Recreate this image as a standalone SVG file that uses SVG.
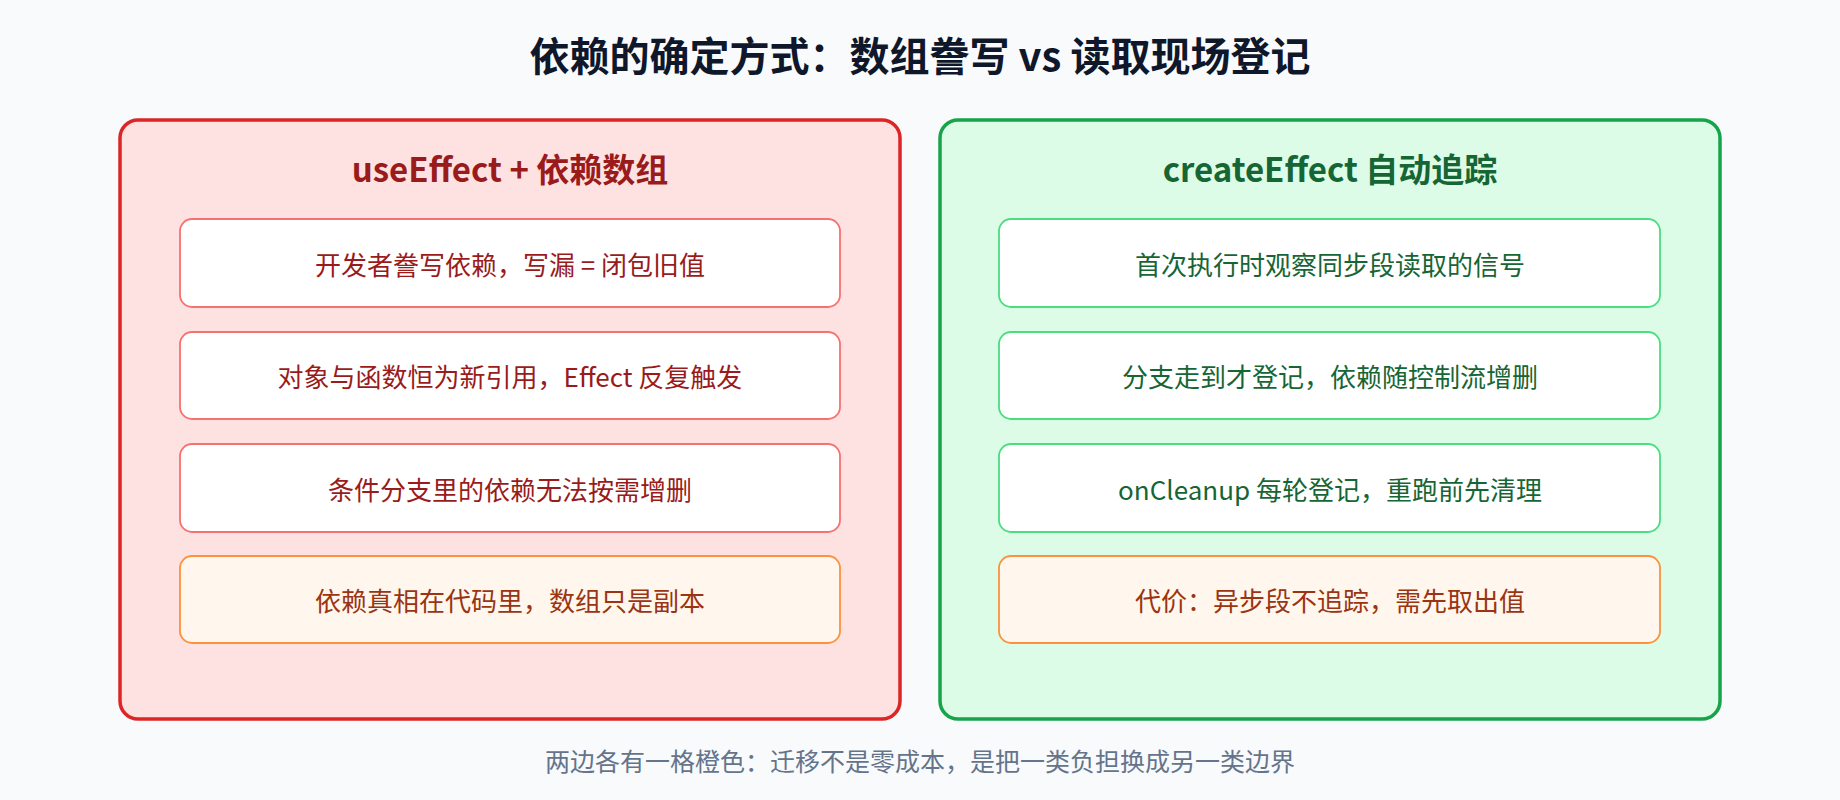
<svg xmlns="http://www.w3.org/2000/svg" width="1840" height="800" viewBox="0 0 1840 800">
<style>
text{font-family:"Noto Sans CJK SC","Noto Sans",sans-serif;text-anchor:middle;dominant-baseline:central}
.title{font-size:40px;font-weight:700;fill:#0f172a}
.pt{font-size:33px;font-weight:700}
.bt{font-size:26px}
.red .panel{fill:#fee2e2;stroke:#dc2626;stroke-width:3.5}
.red .box{fill:#fff;stroke:#f87171;stroke-width:1.8}
.red text{fill:#991b1b}
.green .panel{fill:#dcfce7;stroke:#16a34a;stroke-width:3.5}
.green .box{fill:#fff;stroke:#4ade80;stroke-width:1.8}
.green text{fill:#166534}
.box.warn{fill:#fff7ed;stroke:#fb923c}
text.warn{fill:#9a3412}
.foot{font-size:25px;fill:#64748b}
</style>
<rect width="1840" height="800" fill="#f8fafc"/>
<text class="title" x="920" y="54">依赖的确定方式：数组誊写 vs 读取现场登记</text>
<g id="left" class="red">
<rect class="panel" x="120" y="120" width="780" height="599" rx="18"/>
<text class="pt" x="510" y="168">useEffect + 依赖数组</text>
<g id="l1"><rect class="box" x="180" y="219" width="660" height="88" rx="12"/><text class="bt" x="510" y="263">开发者誊写依赖，写漏 = 闭包旧值</text></g>
<g id="l2"><rect class="box" x="180" y="332" width="660" height="87" rx="12"/><text class="bt" x="510" y="375">对象与函数恒为新引用，Effect 反复触发</text></g>
<g id="l3"><rect class="box" x="180" y="444" width="660" height="88" rx="12"/><text class="bt" x="510" y="488">条件分支里的依赖无法按需增删</text></g>
<g id="l4"><rect class="box warn" x="180" y="556" width="660" height="87" rx="12"/><text class="bt warn" x="510" y="599">依赖真相在代码里，数组只是副本</text></g>
</g>
<g id="right" class="green">
<rect class="panel" x="940" y="120" width="780" height="599" rx="18"/>
<text class="pt" x="1330" y="168">createEffect 自动追踪</text>
<g id="r1"><rect class="box" x="999" y="219" width="661" height="88" rx="12"/><text class="bt" x="1330" y="263">首次执行时观察同步段读取的信号</text></g>
<g id="r2"><rect class="box" x="999" y="332" width="661" height="87" rx="12"/><text class="bt" x="1330" y="375">分支走到才登记，依赖随控制流增删</text></g>
<g id="r3"><rect class="box" x="999" y="444" width="661" height="88" rx="12"/><text class="bt" x="1330" y="488">onCleanup 每轮登记，重跑前先清理</text></g>
<g id="r4"><rect class="box warn" x="999" y="556" width="661" height="87" rx="12"/><text class="bt warn" x="1330" y="599">代价：异步段不追踪，需先取出值</text></g>
</g>
<g id="connectors"/>
<text class="foot" x="920" y="760">两边各有一格橙色：迁移不是零成本，是把一类负担换成另一类边界</text>
</svg>
